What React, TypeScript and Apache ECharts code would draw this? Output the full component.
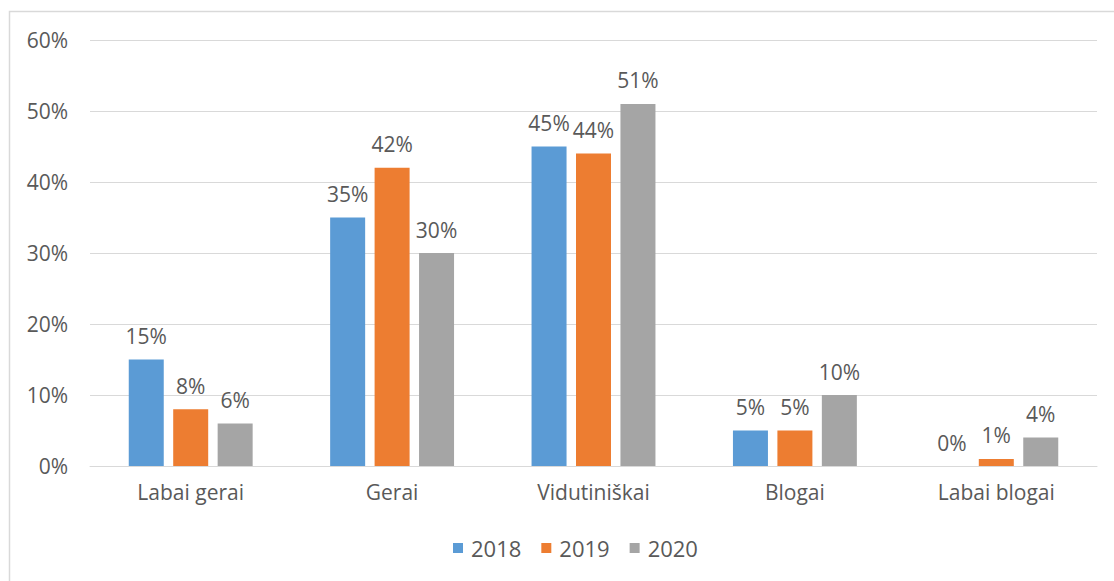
import React, { useEffect, useRef } from "react";
import * as echarts from "echarts";

const categories = ["Labai gerai", "Gerai", "Vidutiniškai", "Blogai", "Labai blogai"];
const seriesNames = ["2018", "2019", "2020"];
const values2018 = [15, 35, 45, 5, 0];
const values2019 = [8, 42, 44, 5, 1];
const values2020 = [6, 30, 51, 10, 4];
const colors = ["#5B9BD5", "#ED7D31", "#A5A5A5"];

const FONT = "'Open Sans', 'Noto Sans', sans-serif";
const TEXT = "#595959";
const FS = 21;

export default function App() {
  const ref = useRef<HTMLDivElement>(null);
  useEffect(() => {
    if (!ref.current) return;
    const chart = echarts.init(ref.current, undefined, { renderer: "svg" });
    const data = [values2018, values2019, values2020];
    chart.setOption({
      animation: false,
      backgroundColor: "#ffffff",
      textStyle: { fontFamily: FONT },
      graphic: [
        {
          type: "rect",
          shape: { x: 9.5, y: 11.5, width: 1300, height: 800 },
          style: { fill: "none", stroke: "#D9D9D9", lineWidth: 1.5 },
          silent: true,
        },
      ],
      grid: { left: 90, right: 17, top: 40, bottom: 115, containLabel: false },
      legend: {
        bottom: 17,
        left: 448,
        itemWidth: 10,
        itemHeight: 10,
        itemGap: 20,
        icon: "rect",
        textStyle: { color: TEXT, fontSize: 22, fontFamily: FONT, padding: [0, 0, 0, 3] },
        data: seriesNames,
      },
      xAxis: {
        type: "category",
        data: categories,
        axisTick: { show: false },
        axisLine: { show: true, lineStyle: { color: "#D9D9D9", width: 1 } },
        axisLabel: { color: TEXT, fontSize: FS, fontFamily: FONT, margin: 15 },
      },
      yAxis: {
        type: "value",
        min: 0,
        max: 60,
        interval: 10,
        axisLine: { show: false },
        axisTick: { show: false },
        axisLabel: { color: TEXT, fontSize: FS, fontFamily: FONT, margin: 22, formatter: "{value}%" },
        splitLine: { lineStyle: { color: "#D9D9D9", width: 1 } },
      },
      series: seriesNames.map((name, i) => ({
        name,
        type: "bar",
        data: data[i],
        barWidth: 35,
        barGap: "27%",
        itemStyle: { color: colors[i] },
        label: {
          show: true,
          position: "top",
          distance: 13,
          formatter: "{c}%",
          color: TEXT,
          fontSize: FS,
          fontFamily: FONT,
        },
      })),
    });
    return () => chart.dispose();
  }, []);
  return (
    <div
      ref={ref}
      style={{ position: "fixed", left: 0, top: 0, width: 1114, height: 581 }}
    />
  );
}
